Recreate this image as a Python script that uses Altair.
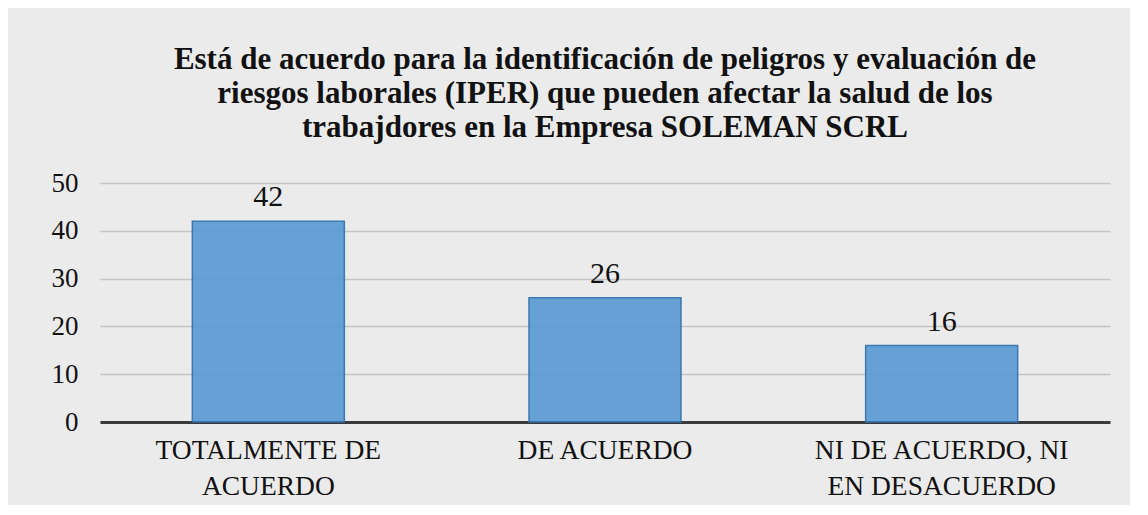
import altair as alt
import pandas as pd

categorias = ["TOTALMENTE DE ACUERDO", "DE ACUERDO", "NI DE ACUERDO, NI EN DESACUERDO"]
etiquetas = [["TOTALMENTE DE", "ACUERDO"], ["DE ACUERDO"], ["NI DE ACUERDO, NI", "EN DESACUERDO"]]
valores = [42, 26, 16]
y_ticks = [0, 10, 20, 30, 40, 50]
titulo = [
    "Está de acuerdo para la identificación de peligros y evaluación de",
    "riesgos laborales (IPER) que pueden afectar la salud de los",
    "trabajdores en la Empresa SOLEMAN SCRL",
]

df = pd.DataFrame({"cat": categorias, "val": valores})

parts = []
for c, e in zip(categorias, etiquetas):
    arr = "[" + ",".join("'" + s + "'" for s in e) + "]"
    parts.append(f"datum.value == '{c}' ? {arr} : ")
label_expr = "".join(parts) + "datum.label"

SERIF = "Times New Roman, Liberation Serif, serif"

x = alt.X(
    "cat:N",
    sort=categorias,
    title=None,
    scale=alt.Scale(paddingInner=0.0, paddingOuter=0.0),
    axis=alt.Axis(
        labelExpr=label_expr,
        labelAngle=0,
        labelFont=SERIF,
        labelFontSize=27.5,
        labelColor="#111111",
        labelLineHeight=36,
        labelPadding=14,
        labelLimit=0,
        ticks=False,
        domain=True,
        domainColor="#3a3a3a",
        domainWidth=3,
    ),
)
y = alt.Y(
    "val:Q",
    title=None,
    scale=alt.Scale(domain=[0, 50], nice=False),
    axis=alt.Axis(
        values=y_ticks,
        labelFont=SERIF,
        labelFontSize=27,
        labelColor="#111111",
        labelPadding=22,
        ticks=False,
        domain=False,
        grid=True,
        gridColor="#c4c4c4",
        gridWidth=1.5,
    ),
)

base = alt.Chart(df).encode(x=x, y=y)

bars = base.mark_bar(
    size=152,
    color="#5b9bd5",
    opacity=0.92,
    stroke="#2f6fae",
    strokeWidth=1.5,
)

labels = base.mark_text(
    dy=-24, font=SERIF, fontSize=30, color="#111111"
).encode(text="val:Q")

chart = (
    alt.layer(bars, labels)
    .properties(
        width=1010,
        height=239,
        padding={"left": 43, "top": 36, "right": 20, "bottom": 5},
        background="#ebebeb",
        title=alt.TitleParams(
            text=titulo,
            font=SERIF,
            fontSize=31,
            fontWeight="bold",
            color="#111111",
            lineHeight=34,
            anchor="middle",
            offset=25,
        ),
    )
    .configure_view(stroke=None)
)

chart.save("out.html", embed_options={"renderer": "svg", "actions": False})
